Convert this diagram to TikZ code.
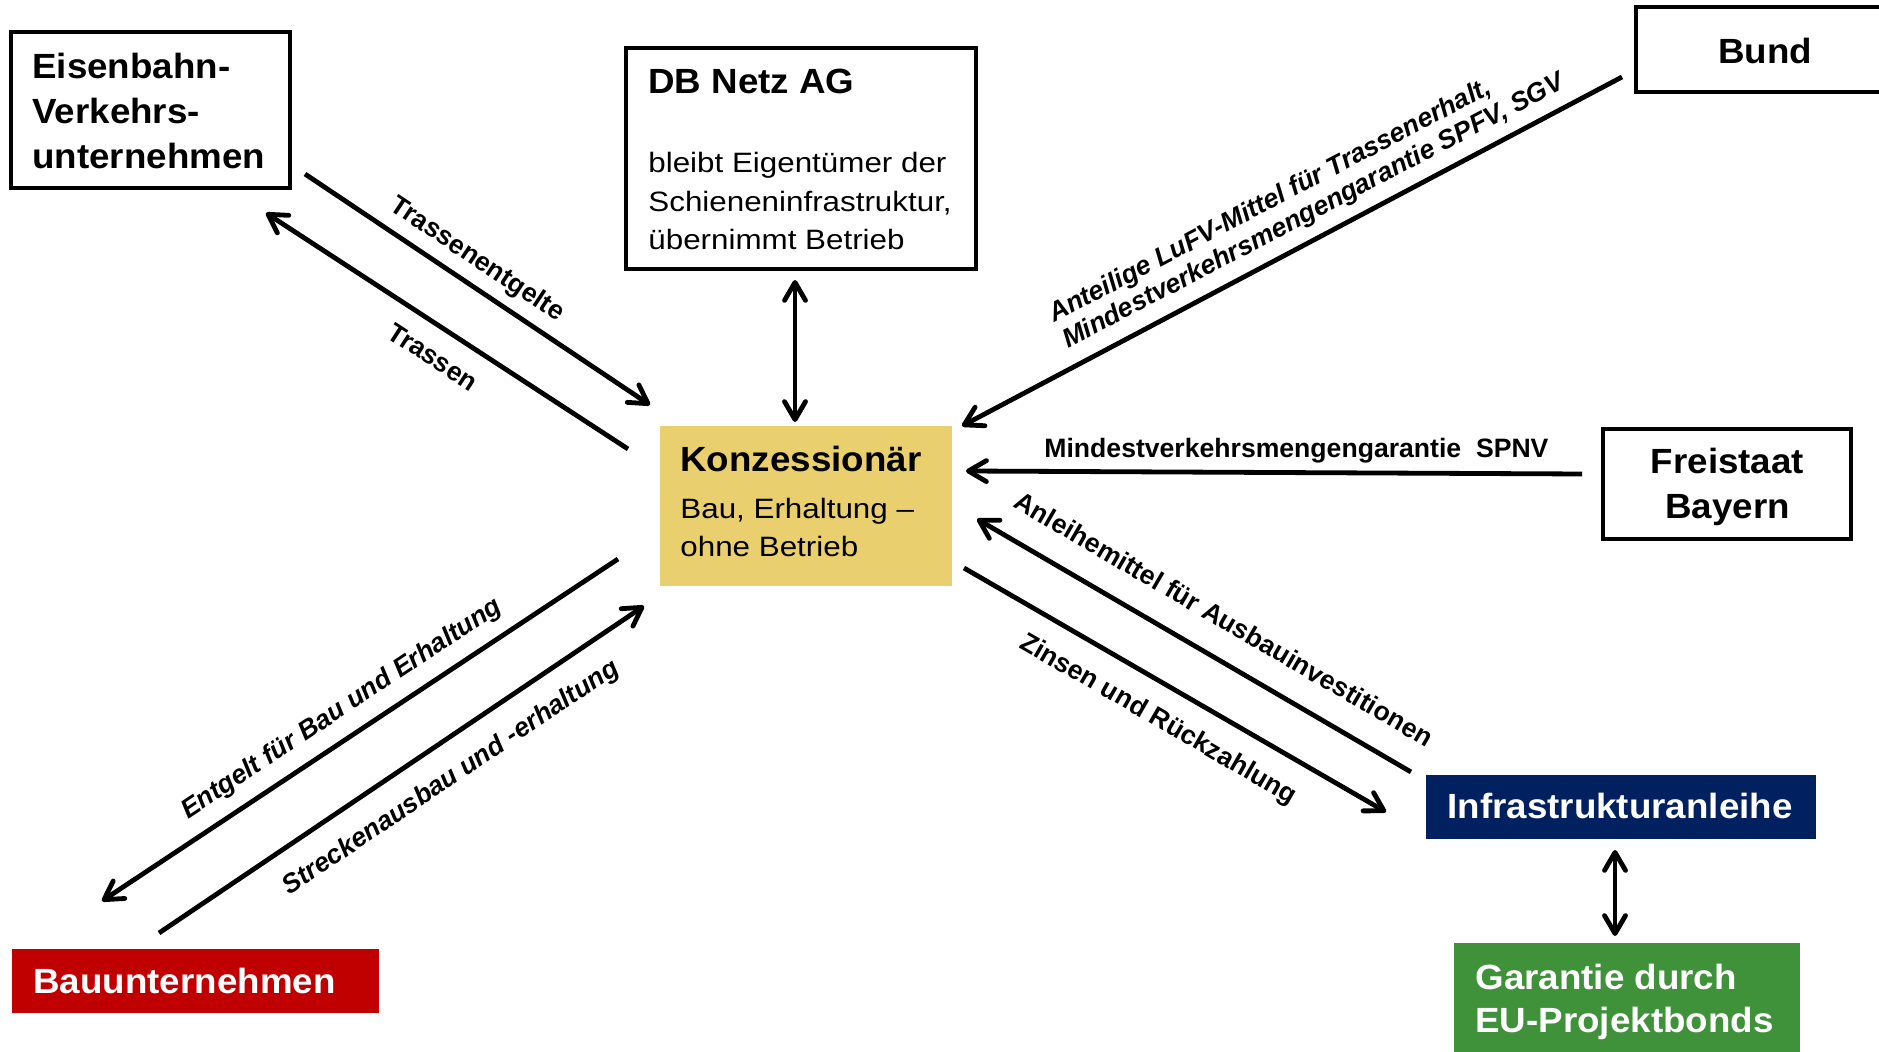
\documentclass[tikz,border=0pt]{standalone}
\usepackage{fontspec}
\setmainfont{Liberation Sans}
\newfontfamily\regfont[FakeStretch=1.12]{Liberation Sans}
\newfontfamily\ttlfont[FakeStretch=1.05]{Liberation Sans}
\usetikzlibrary{arrows.meta}
\definecolor{konzcol}{RGB}{234,207,110}
\definecolor{navycol}{RGB}{0,32,96}
\definecolor{redcol}{RGB}{192,0,0}
\definecolor{greencol}{RGB}{63,146,57}
\tikzset{
  tipb/.tip={Straight Barb[length=9pt,width=10.5pt,round]},
  flow/.style={line width=2.4pt, -tipb},
  dflow/.style={line width=2.4pt, tipb-tipb},
  frame/.style={draw, line width=2.25pt, inner sep=0pt, outer sep=0pt, fill=white},
  fillbox/.style={inner sep=0pt, outer sep=0pt},
  ttl/.style={font=\ttlfont\bfseries\fontsize{17.5pt}{22.5pt}\selectfont, inner sep=0pt},
  reg/.style={font=\regfont\fontsize{14pt}{19.3pt}\selectfont, inner sep=0pt},
  lbl/.style={font=\bfseries\fontsize{13.3pt}{14.5pt}\selectfont, inner sep=0pt},
  ilbl/.style={font=\bfseries\itshape\fontsize{13.3pt}{14.5pt}\selectfont, inner sep=0pt},
}
\begin{document}
\begin{tikzpicture}[x=0.5pt,y=-0.5pt]
\useasboundingbox (0,0) rectangle (1879,1052);

% boxes
\node[frame, minimum width=139.5pt, minimum height=78pt] (evu) at (150.5,110) {};
\node[frame, minimum width=175pt, minimum height=110.5pt] (dbn) at (801,158.5) {};
\node[fillbox, fill=konzcol, minimum width=146pt, minimum height=80pt] (konz) at (806,506) {};
\node[frame, minimum width=132pt, minimum height=42.5pt] (bund) at (1768,49.5) {};
\node[frame, minimum width=124pt, minimum height=55pt] (bay) at (1727,484) {};
\node[fillbox, fill=navycol, minimum width=195pt, minimum height=32pt] (infra) at (1621,807) {};
\node[fillbox, fill=greencol, minimum width=173pt, minimum height=59.5pt] (eub) at (1627,1002.5) {};
\node[fillbox, fill=redcol, minimum width=183.5pt, minimum height=32pt] (bau) at (195.5,981) {};

% box texts
\node[ttl, anchor=base west] (evu1) at (32,79) {Eisenbahn-};
\node[ttl, anchor=base west] (evu2) at (32,124) {Verkehrs-};
\node[ttl, anchor=base west] (evu3) at (32,169) {unternehmen};

\node[ttl, anchor=base west] (dbn1) at (648,94) {DB Netz AG};
\node[reg, anchor=base west] (dbn2) at (648,173) {bleibt Eigentümer der};
\node[reg, anchor=base west] (dbn3) at (648,212) {Schieneninfrastruktur,};
\node[reg, anchor=base west] (dbn4) at (648,250) {übernimmt Betrieb};

\node[ttl, anchor=base west] (konz1) at (680,472) {Konzessionär};
\node[reg, anchor=base west] (konz2) at (680,518.5) {Bau, Erhaltung –};
\node[reg, anchor=base west] (konz3) at (680,557) {ohne Betrieb};

\node[ttl, anchor=base] (bund1) at (1765,64) {Bund};
\node[ttl, anchor=base] (bay1) at (1727.5,474) {Freistaat};
\node[ttl, anchor=base] (bay2) at (1727.5,519) {Bayern};

\node[ttl, anchor=base, text=white] (infra1) at (1620,819) {Infrastrukturanleihe};
\node[ttl, anchor=base west, text=white] (eub1) at (1475,989) {Garantie durch};
\node[ttl, anchor=base west, text=white] (eub2) at (1475,1032) {EU-Projektbonds};
\node[ttl, anchor=base west, text=white] (bau1) at (33,993) {Bauunternehmen};

% connector end points
\coordinate (a1s) at (305,174);  \coordinate (a1e) at (650,405);
\coordinate (a2s) at (628,449);  \coordinate (a2e) at (266,213);
\coordinate (a3s) at (795,280);  \coordinate (a3e) at (795,422);
\coordinate (a4s) at (1622,77);  \coordinate (a4e) at (962,426);
\coordinate (a5s) at (1582,474); \coordinate (a5e) at (966,471);
\coordinate (a6s) at (1411,772); \coordinate (a6e) at (977,519);
\coordinate (a7s) at (964,568);  \coordinate (a7e) at (1386,812);
\coordinate (a8s) at (618,559);  \coordinate (a8e) at (102,901);
\coordinate (a9s) at (159,933);  \coordinate (a9e) at (644,606);
\coordinate (a10s) at (1615,850); \coordinate (a10e) at (1615,936);

% connectors
\draw[flow] (a1s) -- (a1e);
\draw[flow] (a2s) -- (a2e);
\draw[dflow] (a3s) -- (a3e);
\draw[flow] (a4s) -- (a4e);
\draw[flow] (a5s) -- (a5e);
\draw[flow] (a6s) -- (a6e);
\draw[flow] (a7s) -- (a7e);
\draw[flow] (a8s) -- (a8e);
\draw[flow] (a9s) -- (a9e);
\draw[dflow] (a10s) -- (a10e);

% labels
\node[lbl, rotate=-33.7] (l1) at (477,260) {Trassenentgelte};
\node[lbl, rotate=-33.0] (l2) at (433,357) {Trassen};
\node[ilbl, rotate=27.7, align=left] (l3) at (1307,199) {Anteilige LuFV-Mittel für Trassenerhalt,\\Mindestverkehrsmengengarantie SPFV, SGV};
\node[lbl, anchor=base west] (l4) at (1044,458) {Mindestverkehrsmengengarantie\ \ SPNV};
\node[lbl, rotate=-30.2] (l5) at (1224,619) {Anleihemittel für Ausbauinvestitionen};
\node[lbl, rotate=-30.0] (l6) at (1158,720) {Zinsen und Rückzahlung};
\node[ilbl, rotate=33.5] (l7) at (342,709) {Entgelt für Bau und Erhaltung};
\node[ilbl, rotate=34.0] (l8) at (451.5,778) {Streckenausbau und -erhaltung};
\end{tikzpicture}
\end{document}
